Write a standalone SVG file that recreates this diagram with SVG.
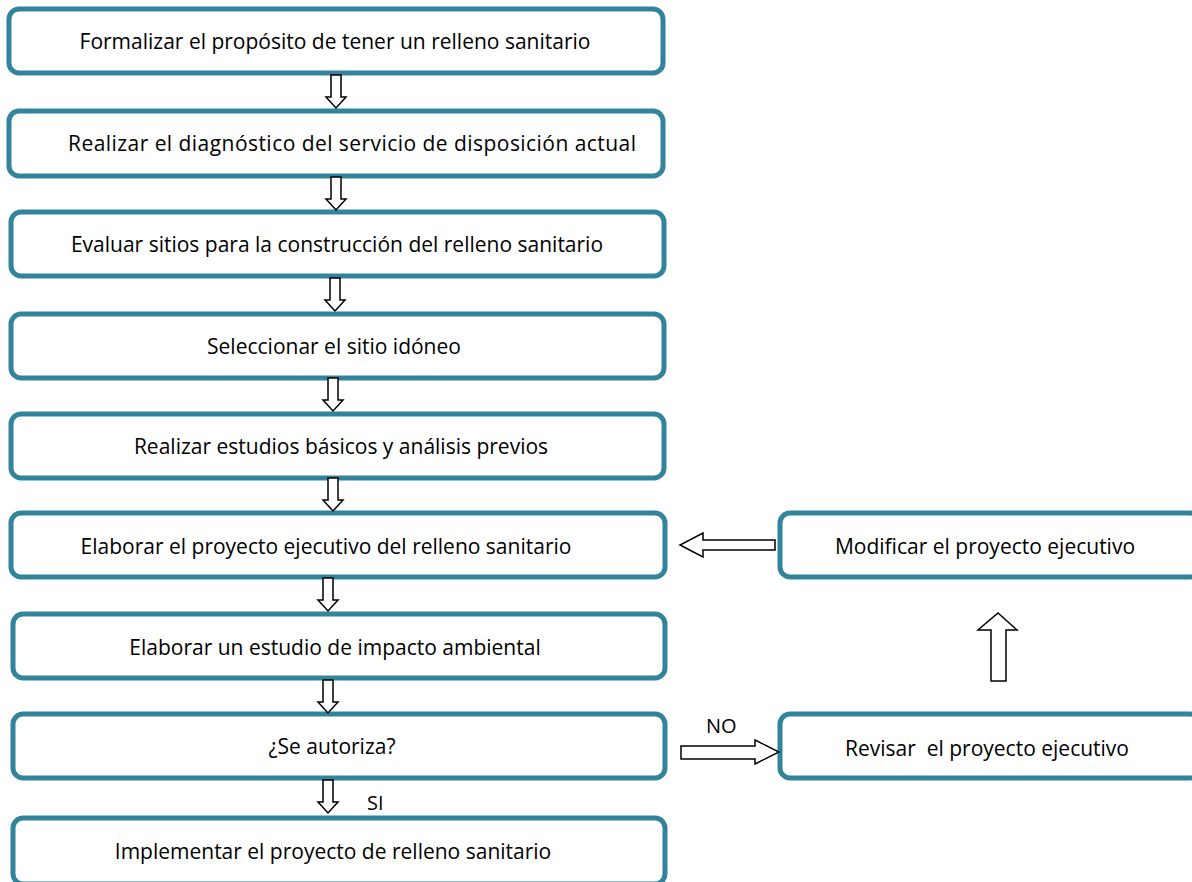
<svg xmlns="http://www.w3.org/2000/svg" width="1192" height="882" viewBox="0 0 1192 882">
<style>
.box{fill:#fff;stroke:#31849B;stroke-width:5}
.t{font-family:"Open Sans","Liberation Sans",sans-serif;font-size:21px;fill:#000;text-anchor:middle;dominant-baseline:central;white-space:pre}
.l{font-family:"Open Sans","Liberation Sans",sans-serif;font-size:20px;fill:#000}
.ar{fill:#fff;stroke:#000;stroke-width:1.5;stroke-linejoin:miter}
</style>
<rect width="1192" height="882" fill="#fff"/>
<g id="n1"><rect class="box" x="9" y="9" width="654" height="64" rx="10"/><text class="t" x="335" y="41">Formalizar el propósito de tener un relleno sanitario</text></g>
<g id="n2"><rect class="box" x="9" y="111" width="654" height="65" rx="10"/><text class="t" x="352" y="143" textLength="568" lengthAdjust="spacing">Realizar el diagnóstico del servicio de disposición actual</text></g>
<g id="n3"><rect class="box" x="11" y="212" width="653" height="64" rx="10"/><text class="t" x="337" y="244">Evaluar sitios para la construcción del relleno sanitario</text></g>
<g id="n4"><rect class="box" x="11" y="314" width="653" height="64" rx="10"/><text class="t" x="334" y="346">Seleccionar el sitio idóneo</text></g>
<g id="n5"><rect class="box" x="11" y="414" width="653" height="64" rx="10"/><text class="t" x="341" y="446">Realizar estudios básicos y análisis previos</text></g>
<g id="n6"><rect class="box" x="11" y="513" width="654" height="64" rx="10"/><text class="t" x="326" y="546">Elaborar el proyecto ejecutivo del relleno sanitario</text></g>
<g id="n7"><rect class="box" x="13" y="614" width="652" height="64" rx="10"/><text class="t" x="335" y="647">Elaborar un estudio de impacto ambiental</text></g>
<g id="n8"><rect class="box" x="13" y="714" width="652" height="64" rx="10"/><text class="t" x="332" y="746">¿Se autoriza?</text></g>
<g id="n9"><rect class="box" x="13" y="818" width="652" height="66" rx="10"/><text class="t" x="333" y="851">Implementar el proyecto de relleno sanitario</text></g>
<g id="n10"><rect class="box" x="780" y="513" width="420" height="64" rx="10"/><text class="t" x="985" y="546">Modificar el proyecto ejecutivo</text></g>
<g id="n11"><rect class="box" x="780" y="714" width="420" height="64" rx="10"/><text class="t" x="987" y="748" xml:space="preserve">Revisar  el proyecto ejecutivo</text></g>
<g id="connectors">
<polygon class="ar" points="331,75 341,75 341,97 346,97 336,108 326,97 331,97"/>
<polygon class="ar" points="331,177 341,177 341,199 346,199 336,210 326,199 331,199"/>
<polygon class="ar" points="330,278 340,278 340,300 345,300 335,311 325,300 330,300"/>
<polygon class="ar" points="328,378 338,378 338,400 343,400 333,411 323,400 328,400"/>
<polygon class="ar" points="328,478 338,478 338,500 343,500 333,511 323,500 328,500"/>
<polygon class="ar" points="323,578 333,578 333,600 338,600 328,611 318,600 323,600"/>
<polygon class="ar" points="323,680 333,680 333,702 338,702 328,713 318,702 323,702"/>
<polygon class="ar" points="323,780 333,780 333,802 338,802 328,813 318,802 323,802"/>
<polygon class="ar" points="775,540 703,540 703,533 680,545 703,557 703,550 775,550"/>
<polygon class="ar" points="681,746 755,746 755,740 779,752 755,764 755,759 681,759"/>
<polygon class="ar" points="991,681 1006,681 1006,630 1017,630 998,613 978,630 991,630"/>
<text class="l" x="706" y="733">NO</text>
<text class="l" x="367" y="810">SI</text>
</g>
</svg>
